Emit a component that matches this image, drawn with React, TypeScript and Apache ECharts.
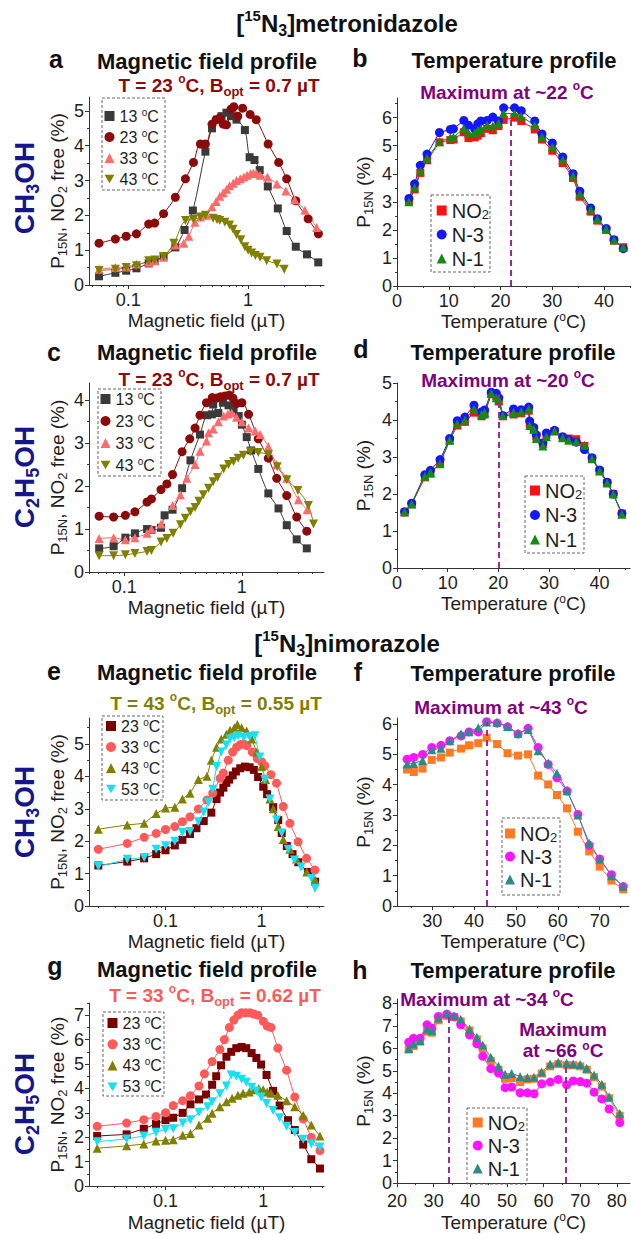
import React, { useEffect, useRef } from 'react';
import * as echarts from 'echarts';

const FONT = 'Liberation Sans, Arial, Helvetica, sans-serif';

// ---------- Panel a : metronidazole, CH3OH, magnetic field profile (x µT, y %) ----------
const A_13 = [[0.057,0.25],[0.078,0.35],[0.096,0.41],[0.117,0.48],[0.148,0.62],[0.166,0.7],[0.197,0.82],[0.247,1.08],[0.295,1.58],[0.346,2.14],[0.44,3.83],[0.5,4.5],[0.55,4.75],[0.6,4.85],[0.66,4.95],[0.72,4.85],[0.8,4.75],[0.94,4.45],[1.03,3.67],[1.13,3.59],[1.25,3.3],[1.46,2.83],[1.77,2.2],[2.1,1.55],[2.5,1.1],[3.1,0.88],[3.85,0.65]];
const A_23 = [[0.057,1.2],[0.078,1.32],[0.096,1.4],[0.117,1.47],[0.148,1.75],[0.166,1.78],[0.197,2.05],[0.247,2.52],[0.3,3.05],[0.35,3.52],[0.4,4.05],[0.44,4.05],[0.5,4.62],[0.54,4.75],[0.58,4.8],[0.62,4.62],[0.66,4.6],[0.72,5.05],[0.76,5.12],[0.82,4.85],[0.9,5.08],[1.04,4.9],[1.17,4.75],[1.47,4.05],[1.8,3.52],[2.1,3.05],[2.5,2.42],[3.17,1.9],[3.86,1.47]];
const A_33 = [[0.057,0.45],[0.078,0.5],[0.096,0.52],[0.117,0.6],[0.148,0.65],[0.166,0.7],[0.197,0.8],[0.247,1.15],[0.29,1.2],[0.32,1.4],[0.36,1.8],[0.4,1.95],[0.45,2.0],[0.5,2.25],[0.54,2.4],[0.58,2.55],[0.62,2.65],[0.66,2.75],[0.7,2.85],[0.75,2.92],[0.8,3.0],[0.86,3.05],[0.92,3.1],[0.98,3.15],[1.05,3.2],[1.11,3.22],[1.18,3.2],[1.26,3.15],[1.45,3.1],[1.74,2.9],[2.07,2.7],[2.45,2.45],[2.98,2.15],[3.73,1.65]];
const A_43 = [[0.057,0.42],[0.078,0.45],[0.096,0.5],[0.117,0.55],[0.148,0.7],[0.166,0.72],[0.197,0.82],[0.24,1.2],[0.3,1.85],[0.35,1.88],[0.4,1.95],[0.44,2.0],[0.51,1.92],[0.55,1.88],[0.58,1.85],[0.64,1.8],[0.7,1.72],[0.75,1.6],[0.8,1.45],[0.87,1.3],[0.94,1.1],[1.0,1.0],[1.07,0.92],[1.15,0.85],[1.26,0.8],[1.43,0.7],[1.74,0.6],[2.0,0.45]];

// ---------- Panel c : metronidazole, C2H5OH ----------
const C_13 = [[0.061,0.55],[0.081,0.6],[0.102,0.8],[0.123,0.9],[0.156,1.0],[0.17,0.98],[0.205,1.03],[0.22,1.32],[0.257,1.45],[0.31,1.95],[0.365,2.6],[0.44,3.2],[0.505,3.65],[0.556,3.67],[0.57,3.9],[0.63,3.7],[0.69,3.94],[0.77,3.88],[0.85,3.8],[0.94,3.63],[1.0,3.43],[1.1,3.14],[1.2,2.83],[1.38,2.4],[1.68,1.83],[2.05,1.48],[2.41,1.09],[2.93,0.76],[3.57,0.55]];
const C_23 = [[0.061,1.3],[0.081,1.28],[0.102,1.32],[0.123,1.4],[0.156,1.63],[0.17,1.7],[0.205,1.92],[0.23,2.05],[0.257,2.27],[0.31,2.8],[0.36,3.1],[0.4,3.35],[0.44,3.65],[0.5,3.94],[0.56,4.06],[0.61,4.05],[0.66,4.08],[0.72,4.1],[0.78,4.12],[0.84,4.05],[0.9,3.92],[1.0,3.94],[1.14,3.67],[1.38,3.1],[1.68,2.65],[1.98,2.18],[2.41,1.78],[2.93,1.28],[3.57,0.95]];
const C_33 = [[0.061,0.78],[0.081,0.8],[0.102,0.75],[0.123,0.8],[0.156,0.9],[0.17,1.0],[0.205,1.12],[0.257,1.55],[0.3,1.8],[0.34,2.18],[0.4,2.5],[0.44,2.81],[0.5,3.05],[0.52,3.24],[0.57,3.33],[0.63,3.5],[0.7,3.63],[0.76,3.68],[0.82,3.7],[0.9,3.6],[1.0,3.5],[1.14,3.35],[1.3,3.28],[1.43,3.2],[1.68,2.92],[1.98,2.5],[2.41,2.18],[3.03,1.68],[3.6,1.45]];
const C_43 = [[0.061,0.38],[0.081,0.38],[0.102,0.4],[0.123,0.43],[0.156,0.48],[0.17,0.5],[0.205,0.7],[0.23,0.78],[0.26,0.9],[0.3,1.1],[0.33,1.25],[0.365,1.4],[0.4,1.5],[0.43,1.65],[0.47,1.8],[0.52,1.95],[0.57,2.1],[0.62,2.2],[0.7,2.4],[0.77,2.5],[0.85,2.57],[0.93,2.65],[1.03,2.72],[1.18,2.8],[1.38,2.78],[1.68,2.73],[2.0,2.45],[2.41,2.15],[3.0,1.9],[3.68,1.55],[4.07,1.12]];

// ---------- Panel e : nimorazole, CH3OH ----------
const E_23 = [[0.02,1.25],[0.04,1.37],[0.06,1.47],[0.08,1.6],[0.1,1.72],[0.125,1.87],[0.15,2.04],[0.18,2.22],[0.21,2.4],[0.25,2.62],[0.3,2.88],[0.34,3.3],[0.37,3.5],[0.4,3.65],[0.43,3.8],[0.46,3.9],[0.5,4.03],[0.54,4.15],[0.6,4.25],[0.67,4.3],[0.75,4.28],[0.83,4.2],[0.92,3.98],[1.04,3.68],[1.14,3.45],[1.32,3.05],[1.49,2.65],[1.62,2.25],[1.83,1.85],[2.1,1.6],[2.41,1.35],[3.05,1.05],[3.6,0.75]];
const E_33 = [[0.02,1.75],[0.04,1.93],[0.06,2.12],[0.08,2.24],[0.1,2.36],[0.125,2.45],[0.15,2.6],[0.18,2.75],[0.22,2.99],[0.27,3.27],[0.31,3.48],[0.37,3.94],[0.4,4.1],[0.45,4.5],[0.5,4.75],[0.55,4.9],[0.6,4.98],[0.65,5.0],[0.7,4.95],[0.8,4.75],[0.9,4.55],[1.0,4.45],[1.08,4.33],[1.25,4.05],[1.43,3.79],[1.68,3.07],[1.97,2.55],[2.4,1.98],[2.94,1.47],[3.59,1.11]];
const E_43 = [[0.02,2.37],[0.04,2.5],[0.06,2.55],[0.08,2.85],[0.1,3.02],[0.125,3.05],[0.15,3.3],[0.18,3.48],[0.22,3.9],[0.27,4.0],[0.3,4.5],[0.34,4.9],[0.38,5.15],[0.43,5.3],[0.47,5.42],[0.52,5.5],[0.56,5.6],[0.62,5.5],[0.7,5.4],[0.79,5.15],[0.89,4.75],[1.0,4.3],[1.1,3.9],[1.22,3.3],[1.32,3.0],[1.49,2.45],[1.68,2.05],[1.97,1.75],[2.3,1.45],[2.95,1.05],[3.6,0.8]];
const E_53 = [[0.02,1.22],[0.04,1.44],[0.06,1.5],[0.08,1.75],[0.1,1.86],[0.125,2.0],[0.15,2.27],[0.18,2.3],[0.22,2.6],[0.25,2.9],[0.28,3.2],[0.31,3.6],[0.34,4.3],[0.38,4.75],[0.43,4.97],[0.47,5.15],[0.52,5.2],[0.57,5.25],[0.65,5.2],[0.75,5.22],[0.85,5.25],[0.96,4.6],[1.08,3.9],[1.22,3.3],[1.43,2.65],[1.62,2.25],[1.89,1.75],[2.2,1.42],[2.57,1.2],[3.3,0.85],[3.6,0.55]];

// ---------- Panel g : nimorazole, C2H5OH ----------
const G_23 = [[0.02,2.05],[0.04,2.12],[0.06,2.35],[0.08,2.55],[0.1,2.7],[0.12,2.8],[0.15,3.0],[0.18,3.35],[0.22,3.55],[0.26,3.75],[0.3,4.15],[0.33,4.5],[0.37,4.95],[0.42,5.3],[0.47,5.5],[0.53,5.65],[0.6,5.7],[0.67,5.65],[0.76,5.45],[0.85,5.25],[0.95,4.98],[1.08,4.55],[1.26,3.9],[1.47,3.3],[1.79,2.7],[2.1,2.3],[2.56,1.7],[3.1,1.1],[3.8,0.72]];
const G_33 = [[0.02,2.45],[0.04,2.58],[0.06,2.72],[0.08,2.85],[0.1,3.0],[0.12,3.3],[0.15,3.5],[0.18,3.7],[0.22,4.1],[0.25,4.6],[0.3,5.1],[0.36,5.6],[0.4,6.0],[0.45,6.5],[0.5,6.8],[0.55,7.0],[0.6,7.1],[0.66,7.1],[0.73,7.1],[0.8,7.05],[0.88,7.0],[1.0,6.75],[1.1,6.55],[1.2,6.5],[1.41,5.65],[1.73,4.75],[2.1,3.65],[2.56,2.75],[3.1,2.0],[3.8,1.45]];
const G_43 = [[0.02,1.55],[0.04,1.65],[0.06,1.72],[0.08,1.85],[0.1,1.88],[0.12,1.9],[0.15,2.08],[0.18,2.15],[0.22,2.5],[0.27,2.78],[0.3,2.98],[0.36,3.25],[0.42,3.45],[0.48,3.6],[0.55,3.72],[0.62,3.8],[0.72,3.85],[0.8,3.95],[0.9,4.0],[1.0,3.95],[1.1,3.85],[1.2,3.8],[1.41,3.72],[1.73,3.5],[2.1,3.25],[2.56,2.9],[3.1,2.5],[3.8,2.05]];
const G_53 = [[0.02,1.82],[0.04,1.93],[0.06,2.05],[0.08,2.2],[0.1,2.32],[0.12,2.35],[0.15,2.58],[0.18,2.72],[0.22,3.02],[0.27,3.25],[0.3,3.45],[0.36,3.78],[0.42,4.1],[0.47,4.55],[0.53,4.5],[0.6,4.38],[0.67,4.25],[0.76,4.05],[0.85,3.9],[0.95,3.65],[1.08,3.38],[1.26,3.1],[1.47,2.8],[1.73,2.45],[2.1,2.2],[2.56,1.92],[3.1,1.72],[3.8,1.6]];

// ---------- Panel b : metronidazole, CH3OH, temperature profile ----------
const B_T = [2.3,3.4,4.5,5.8,8.2,10.3,10.9,12.9,13.8,15.0,15.6,16.2,17.4,18.5,19.6,20.6,22.7,24.0,26.6,28.0,30.0,32.0,34.0,35.3,37.4,38.7,40.4,41.9,43.7];
const B_NO2 = [3.0,3.44,4.03,4.48,5.12,5.2,5.22,5.48,5.27,5.3,5.36,5.45,5.6,5.55,5.7,5.92,6.0,5.88,5.58,5.22,4.82,4.38,3.85,3.18,2.65,2.33,2.0,1.62,1.38];
const B_N3 = [3.12,3.64,4.3,4.7,5.47,5.58,5.6,5.9,5.73,5.6,5.78,5.88,5.9,6.02,5.88,6.35,6.35,6.25,5.88,5.42,5.1,4.6,4.0,3.38,2.78,2.4,2.05,1.65,1.33];
const B_N1 = [3.0,3.5,4.1,4.55,5.15,5.28,5.3,5.62,5.45,5.45,5.55,5.6,5.72,5.7,5.8,6.15,6.15,6.05,5.72,5.32,4.95,4.5,3.92,3.28,2.72,2.38,2.03,1.64,1.38];
const B_MAX = [22, 6.08];

// ---------- Panel d : metronidazole, C2H5OH ----------
const D_T = [1.5,2.9,5.5,6.6,8.5,10.4,11.9,13.4,15.2,16.7,17.3,18.6,19.6,20.1,20.9,23.0,24.5,26.0,26.2,27.0,27.5,28.8,29.5,31.1,32.7,33.9,35.4,37.0,38.5,40.0,41.5,42.7,44.4];
const D_NO2 = [1.5,1.72,2.45,2.55,2.85,3.45,3.85,3.95,4.2,4.1,4.15,4.7,4.65,4.5,4.1,4.15,4.18,4.25,3.9,3.75,3.55,3.35,3.6,3.7,3.52,3.5,3.48,3.3,2.95,2.62,2.3,2.0,1.47];
const D_N3 = [1.52,1.75,2.52,2.64,2.93,3.5,3.98,4.08,4.4,4.22,4.27,4.75,4.72,4.6,4.12,4.3,4.28,4.35,3.97,3.8,3.6,3.38,3.65,3.72,3.55,3.47,3.4,3.2,2.98,2.65,2.32,2.0,1.47];
const D_N1 = [1.52,1.73,2.48,2.58,2.82,3.45,3.9,4.0,4.3,4.15,4.2,4.72,4.6,4.55,4.12,4.2,4.22,4.3,3.85,3.75,3.5,3.3,3.55,3.7,3.52,3.45,3.42,3.32,2.95,2.62,2.3,2.0,1.45];
const D_MAX = [20, 4.68];

// ---------- Panel f : nimorazole, CH3OH ----------
const F_T = [24.0,25.6,27.7,29.9,32.1,34.2,36.9,38.8,41.0,43.0,45.5,48.0,50.5,52.9,55.3,57.7,59.8,62.2,64.8,67.5,70.0,72.8,75.6];
const F_NO2 = [4.5,4.42,4.53,4.82,4.9,5.06,5.19,5.3,5.37,5.55,5.34,5.04,4.96,5.0,4.3,4.01,3.66,3.22,2.45,1.8,1.3,0.84,0.55];
const F_N3 = [4.84,4.9,5.0,5.23,5.3,5.45,5.61,5.74,5.74,6.08,6.03,5.91,5.67,5.86,5.23,4.67,4.23,3.79,3.02,2.0,1.55,1.03,0.64];
const F_N1 = [4.68,4.7,4.8,5.15,5.2,5.45,5.68,5.75,5.88,6.07,6.06,5.92,5.7,5.82,5.12,4.72,4.38,3.8,3.0,2.08,1.55,1.0,0.65];
const F_MAX = [43, 6.05];

// ---------- Panel h : nimorazole, C2H5OH ----------
const H_T = [23.2,24.5,26.3,28.2,29.5,31.3,33.6,35.6,37.4,39.8,41.8,43.4,45.6,47.7,49.5,51.3,53.6,55.6,57.4,59.5,61.8,64.0,66.3,68.1,70.0,71.8,73.8,75.9,77.9,80.8];
const H_NO2 = [5.95,6.1,6.3,6.75,6.7,7.25,7.45,7.4,7.2,6.8,6.4,6.0,5.45,5.05,4.65,4.68,4.5,4.62,4.65,4.88,5.2,5.3,5.25,5.25,5.2,5.05,4.72,4.3,3.78,3.0];
const H_N3 = [6.27,6.45,6.45,7.05,6.9,7.42,7.52,7.4,7.05,6.6,6.2,5.65,5.1,4.9,4.25,4.28,4.02,4.02,3.98,4.42,4.5,4.62,4.38,4.55,4.52,4.45,4.05,3.75,3.3,2.7];
const H_N1 = [6.0,6.2,6.35,6.85,6.8,7.35,7.55,7.45,7.3,6.85,6.5,6.15,5.6,5.2,4.85,4.88,4.75,4.7,4.72,4.95,5.3,5.38,5.35,5.3,5.28,5.12,4.82,4.4,3.85,3.1];
const H_MAX1 = [34, 7.5];
const H_MAX2 = [66, 5.35];

// ---------- tick values ----------
const LOG_TICKS = [0.1, 1];
const LOG_MINOR = [0.02,0.03,0.04,0.05,0.06,0.07,0.08,0.09,0.2,0.3,0.4,0.5,0.6,0.7,0.8,0.9,2,3,4];
const T_TICKS_BD = [0, 10, 20, 30, 40];
const T_MINOR_BD = [5, 15, 25, 35, 45];
const T_TICKS_F = [30, 40, 50, 60, 70];
const T_MINOR_F = [25, 35, 45, 55, 65, 75];
const T_TICKS_H = [20, 30, 40, 50, 60, 70, 80];
const T_MINOR_H = [25, 35, 45, 55, 65, 75];
const Y_TICKS = [0, 1, 2, 3, 4, 5, 6, 7, 8];
const Y_MINOR = [0.5, 1.5, 2.5, 3.5, 4.5, 5.5, 6.5, 7.5];

// ---------- styling ----------
const COL = {
  gray: '#3a3a3a', dred: '#8b0a0a', pink: '#ff6b6b', olive: '#808000',
  maroon: '#7a0000', salmon: '#ff5a5a', cyan: '#16e0f2',
  red: '#ff1010', blue: '#1515ff', green: '#158a15',
  orange: '#ff7a22', magenta: '#ff14ff', teal: '#2c8a8a',
  purple: '#800080', dash: '#9a2c9a', navy: '#16168a',
};
const DOWN = 'path://M0,0L10,0L5,8.66Z';

const LEFT_YNAME = 'P{sub|15N}, NO{sub|2} free (%)';
const RIGHT_YNAME = 'P{sub|15N} (%)';

type Panel = {
  grid: any; xType: 'log' | 'value'; xMin: number; xMax: number; yMax: number;
  xTicks: number[]; xMinor: number[]; xName: string; yName: string; yGap: number; xMargin: number;
};

const PANELS: Panel[] = [
  { grid: { left: 89, top: 97, width: 235, height: 188 }, xType: 'log', xMin: 0.047, xMax: 4.3, yMax: 5.4, xTicks: LOG_TICKS, xMinor: LOG_MINOR, xName: 'Magnetic field (µT)', yName: LEFT_YNAME, yGap: 20, xMargin: 6 },
  { grid: { left: 397, top: 98, width: 233, height: 188 }, xType: 'value', xMin: 0, xMax: 45, yMax: 6.7, xTicks: T_TICKS_BD, xMinor: T_MINOR_BD, xName: 'Temperature ({sup|o}C)', yName: RIGHT_YNAME, yGap: 22, xMargin: 6 },
  { grid: { left: 89, top: 383, width: 235, height: 189 }, xType: 'log', xMin: 0.05, xMax: 5.0, yMax: 4.4, xTicks: LOG_TICKS, xMinor: LOG_MINOR, xName: 'Magnetic field (µT)', yName: LEFT_YNAME, yGap: 20, xMargin: 6 },
  { grid: { left: 397, top: 383, width: 233, height: 185 }, xType: 'value', xMin: 0, xMax: 46, yMax: 5.0, xTicks: T_TICKS_BD, xMinor: T_MINOR_BD, xName: 'Temperature ({sup|o}C)', yName: RIGHT_YNAME, yGap: 22, xMargin: 6 },
  { grid: { left: 89, top: 718, width: 235, height: 188 }, xType: 'log', xMin: 0.016, xMax: 4.46, yMax: 5.8, xTicks: LOG_TICKS, xMinor: LOG_MINOR, xName: 'Magnetic field (µT)', yName: LEFT_YNAME, yGap: 20, xMargin: 6 },
  { grid: { left: 397, top: 718, width: 232, height: 188 }, xType: 'value', xMin: 21.6, xMax: 77, yMax: 6.2, xTicks: T_TICKS_F, xMinor: T_MINOR_F, xName: 'Temperature ({sup|o}C)', yName: RIGHT_YNAME, yGap: 22, xMargin: 6 },
  { grid: { left: 89, top: 1003, width: 235, height: 189 }, xType: 'log', xMin: 0.0165, xMax: 4.18, yMax: 7.5, xTicks: LOG_TICKS, xMinor: LOG_MINOR, xName: 'Magnetic field (µT)', yName: LEFT_YNAME, yGap: 20, xMargin: 6 },
  { grid: { left: 397, top: 999, width: 233, height: 193 }, xType: 'value', xMin: 20, xMax: 83.6, yMax: 8.2, xTicks: T_TICKS_H, xMinor: T_MINOR_H, xName: 'Temperature ({sup|o}C)', yName: RIGHT_YNAME, yGap: 22, xMargin: 9 },
];

const AXIS_COLOR = '#333';
const LABEL_COLOR = '#1e1e1e';
const nameRich = {
  sub: { fontSize: 13, lineHeight: 13, verticalAlign: 'bottom', color: LABEL_COLOR, fontFamily: FONT },
  sup: { fontSize: 12, lineHeight: 12, verticalAlign: 'top', color: LABEL_COLOR, fontFamily: FONT },
};

function pairs(xs: number[], ys: number[]) {
  return xs.map((x, i) => [x, ys[i]]);
}

function line(name: string, data: number[][], symbol: string, color: string, idx: number, size: number, smooth: number | boolean) {
  return {
    type: 'line', name, data, xAxisIndex: idx, yAxisIndex: idx,
    symbol, symbolSize: size, smooth, showSymbol: true,
    lineStyle: { color, width: 1 }, itemStyle: { color },
    emphasis: { disabled: true }, silent: true,
  };
}

function maxLine(points: number[][]) {
  return {
    silent: true, symbol: ['none', 'none'], label: { show: false },
    lineStyle: { color: COL.dash, type: [6, 4], width: 2 },
    data: points.map((p) => [{ coord: [p[0], 0] }, { coord: [p[0], p[1]] }]),
  };
}

function txt(x: number, y: number, text: string, size: number, color: string, extra: any = {}) {
  const weight = extra.weight ?? 'bold';
  const base = { fontSize: size, fontWeight: weight, fontFamily: FONT, fill: color, color };
  const sub = Math.round(size * 0.66);
  const sup = Math.round(size * 0.64);
  return {
    type: 'text', x, y, rotation: extra.rotation ?? 0, silent: true, z: 100,
    style: {
      text, ...base,
      align: extra.align ?? 'center', textAlign: extra.align ?? 'center',
      verticalAlign: 'middle', textVerticalAlign: 'middle',
      lineHeight: extra.lh ?? Math.round(size * 1.3),
      rich: {
        sub: { ...base, fontSize: sub, lineHeight: sub, verticalAlign: 'bottom' },
        sup: { ...base, fontSize: sup, lineHeight: sup, verticalAlign: 'top' },
      },
    },
  };
}

function box(x: number, y: number, w: number, h: number) {
  return {
    type: 'rect', silent: true, z: 50,
    shape: { x, y, width: w, height: h },
    style: { fill: 'none', stroke: '#666', lineWidth: 1, lineDash: [3, 2] },
  };
}

function legendLeft(left: number, top: number, gap: number, names: string[], icons: string[]) {
  return {
    orient: 'vertical', left, top, padding: 0, itemGap: gap, itemWidth: 10, itemHeight: 10,
    selectedMode: false,
    data: names.map((n, i) => ({ name: n, icon: icons[i] })),
    formatter: (n: string) => `${n.split(':')[1]} {s|o}C`,
    textStyle: {
      fontSize: 16, lineHeight: 18, color: LABEL_COLOR, fontFamily: FONT,
      rich: { s: { fontSize: 10, lineHeight: 10, verticalAlign: 'top', color: LABEL_COLOR, fontFamily: FONT } },
    },
  };
}

function legendRight(left: number, top: number, gap: number, names: string[], icons: string[]) {
  return {
    orient: 'vertical', left, top, padding: 0, itemGap: gap, itemWidth: 10, itemHeight: 10,
    selectedMode: false,
    data: names.map((n, i) => ({ name: n, icon: icons[i] })),
    formatter: (n: string) => {
      const t = n.split(':')[1];
      return t === 'NO2' ? 'NO{b|2}' : t;
    },
    textStyle: {
      fontSize: 20, lineHeight: 21, color: LABEL_COLOR, fontFamily: FONT,
      rich: { b: { fontSize: 13, lineHeight: 13, verticalAlign: 'bottom', color: LABEL_COLOR, fontFamily: FONT } },
    },
  };
}

function buildOption() {
  const grid = PANELS.map((p) => p.grid);
  const xMain = PANELS.map((p, i) => ({
    type: p.xType, gridIndex: i, min: p.xMin, max: p.xMax, position: 'bottom',
    axisLine: { show: true, onZero: false, lineStyle: { color: AXIS_COLOR, width: 1 } },
    axisTick: { show: true, length: 4, lineStyle: { color: AXIS_COLOR }, customValues: p.xTicks },
    axisLabel: { show: true, margin: p.xMargin, fontSize: 18, lineHeight: 18, color: LABEL_COLOR, fontFamily: FONT, customValues: p.xTicks, formatter: (v: number) => String(v) },
    splitLine: { show: false },
    name: p.xName, nameLocation: 'middle', nameGap: 18,
    nameTextStyle: { fontSize: 19, color: LABEL_COLOR, fontFamily: FONT, lineHeight: 22, rich: nameRich },
  }));
  const xMinor = PANELS.map((p, i) => ({
    type: p.xType, gridIndex: i, min: p.xMin, max: p.xMax, position: 'bottom',
    axisLine: { show: false }, axisLabel: { show: false }, splitLine: { show: false },
    axisTick: { show: true, length: 2, lineStyle: { color: AXIS_COLOR }, customValues: p.xMinor },
  }));
  const yMain = PANELS.map((p, i) => ({
    type: 'value', gridIndex: i, min: 0, max: p.yMax, position: 'left',
    axisLine: { show: true, onZero: false, lineStyle: { color: AXIS_COLOR, width: 1 } },
    axisTick: { show: true, length: 4, lineStyle: { color: AXIS_COLOR }, customValues: Y_TICKS.filter((v) => v <= p.yMax) },
    axisLabel: { show: true, margin: 5, fontSize: 18, lineHeight: 18, color: LABEL_COLOR, fontFamily: FONT, customValues: Y_TICKS.filter((v) => v <= p.yMax) },
    splitLine: { show: false },
    name: p.yName, nameLocation: 'middle', nameGap: p.yGap, nameRotate: 90,
    nameTextStyle: { fontSize: 19, color: LABEL_COLOR, fontFamily: FONT, lineHeight: 24, rich: nameRich },
  }));
  const yMinor = PANELS.map((p, i) => ({
    type: 'value', gridIndex: i, min: 0, max: p.yMax, position: 'left', offset: 0,
    axisLine: { show: false }, axisLabel: { show: false }, splitLine: { show: false },
    axisTick: { show: true, length: 2, lineStyle: { color: AXIS_COLOR }, customValues: Y_MINOR.filter((v) => v <= p.yMax) },
  }));

  const S = 8, R = 9, T = 9;
  const series: any[] = [
    // a
    line('a:13', A_13, 'rect', COL.gray, 0, S, 0.35),
    line('a:23', A_23, 'circle', COL.dred, 0, R, 0.35),
    line('a:33', A_33, 'triangle', COL.pink, 0, T, 0.35),
    line('a:43', A_43, DOWN, COL.olive, 0, T, 0.35),
    // b
    { ...line('b:NO2', pairs(B_T, B_NO2), 'rect', COL.red, 1, S, false), markLine: maxLine([B_MAX]) },
    line('b:N-3', pairs(B_T, B_N3), 'circle', COL.blue, 1, R, false),
    line('b:N-1', pairs(B_T, B_N1), 'triangle', COL.green, 1, T, false),
    // c
    line('c:13', C_13, 'rect', COL.gray, 2, S, 0.35),
    line('c:23', C_23, 'circle', COL.dred, 2, R, 0.35),
    line('c:33', C_33, 'triangle', COL.pink, 2, T, 0.35),
    line('c:43', C_43, DOWN, COL.olive, 2, T, 0.35),
    // d
    { ...line('d:NO2', pairs(D_T, D_NO2), 'rect', COL.red, 3, S, false), markLine: maxLine([D_MAX]) },
    line('d:N-3', pairs(D_T, D_N3), 'circle', COL.blue, 3, R, false),
    line('d:N-1', pairs(D_T, D_N1), 'triangle', COL.green, 3, T, false),
    // e
    line('e:23', E_23, 'rect', COL.maroon, 4, S, false),
    line('e:33', E_33, 'circle', COL.salmon, 4, R, false),
    line('e:43', E_43, 'triangle', COL.olive, 4, T, false),
    line('e:53', E_53, DOWN, COL.cyan, 4, T, false),
    // f
    { ...line('f:NO2', pairs(F_T, F_NO2), 'rect', COL.orange, 5, S, false), markLine: maxLine([F_MAX]) },
    line('f:N-3', pairs(F_T, F_N3), 'circle', COL.magenta, 5, R, false),
    line('f:N-1', pairs(F_T, F_N1), 'triangle', COL.teal, 5, T, false),
    // g
    line('g:23', G_23, 'rect', COL.maroon, 6, S, false),
    line('g:33', G_33, 'circle', COL.salmon, 6, R, false),
    line('g:43', G_43, 'triangle', COL.olive, 6, T, false),
    line('g:53', G_53, DOWN, COL.cyan, 6, T, false),
    // h
    { ...line('h:NO2', pairs(H_T, H_NO2), 'rect', COL.orange, 7, S, false), markLine: maxLine([H_MAX1, H_MAX2]) },
    line('h:N-3', pairs(H_T, H_N3), 'circle', COL.magenta, 7, R, false),
    line('h:N-1', pairs(H_T, H_N1), 'triangle', COL.teal, 7, T, false),
  ];

  const ICONS_L = ['rect', 'circle', 'triangle', DOWN];
  const ICONS_R = ['rect', 'circle', 'triangle'];
  const legend = [
    legendLeft(104.5, 107, 3, ['a:13', 'a:23', 'a:33', 'a:43'], ICONS_L),
    legendRight(436.7, 200, 3, ['b:NO2', 'b:N-3', 'b:N-1'], ICONS_R),
    legendLeft(100.5, 390, 4, ['c:13', 'c:23', 'c:33', 'c:43'], ICONS_L),
    legendRight(530, 480, 3.5, ['d:NO2', 'd:N-3', 'd:N-1'], ICONS_R),
    legendLeft(106, 717, 3, ['e:23', 'e:33', 'e:43', 'e:53'], ICONS_L),
    legendRight(505, 823, 2, ['f:NO2', 'f:N-3', 'f:N-1'], ICONS_R),
    legendLeft(107.5, 1014, 3.3, ['g:23', 'g:33', 'g:43', 'g:53'], ICONS_L),
    legendRight(472.7, 1112, 2, ['h:NO2', 'h:N-3', 'h:N-1'], ICONS_R),
  ];

  const BLACK = '#111';
  const elements: any[] = [
    txt(347, 23, '[{sup|15}N{sub|3}]metronidazole', 24, BLACK),
    txt(347, 643, '[{sup|15}N{sub|3}]nimorazole', 24, BLACK),
    txt(56, 59, 'a', 25, BLACK), txt(360, 58, 'b', 25, BLACK),
    txt(54, 352, 'c', 25, BLACK), txt(361, 349, 'd', 25, BLACK),
    txt(54, 671, 'e', 25, BLACK), txt(358, 672, 'f', 25, BLACK),
    txt(55, 966, 'g', 25, BLACK), txt(360, 970, 'h', 25, BLACK),
    txt(207, 61, 'Magnetic field profile', 22, BLACK),
    txt(514, 60, 'Temperature profile', 22, BLACK),
    txt(207, 352, 'Magnetic field profile', 22, BLACK),
    txt(513, 352, 'Temperature profile', 22, BLACK),
    txt(207, 672, 'Magnetic field profile', 22, BLACK),
    txt(513, 673, 'Temperature profile', 22, BLACK),
    txt(207, 969, 'Magnetic field profile', 22, BLACK),
    txt(513, 970, 'Temperature profile', 22, BLACK),
    txt(219, 85, 'T = 23 {sup|o}C, B{sub|opt} = 0.7 µT', 19, COL.dred),
    txt(219, 379, 'T = 23 {sup|o}C, B{sub|opt} = 0.7 µT', 19, COL.dred),
    txt(216, 703, 'T = 43 {sup|o}C, B{sub|opt} = 0.55 µT', 19, COL.olive),
    txt(215, 995, 'T = 33 {sup|o}C, B{sub|opt} = 0.62 µT', 19, COL.salmon),
    txt(507, 92, 'Maximum at ~22 {sup|o}C', 19, COL.purple),
    txt(508, 380, 'Maximum at ~20 {sup|o}C', 19, COL.purple),
    txt(501, 707, 'Maximum at ~43 {sup|o}C', 19, COL.purple),
    txt(487, 999, 'Maximum at ~34 {sup|o}C', 19, COL.purple),
    txt(563, 1029, 'Maximum', 19, COL.purple, { lh: 20 }),
    txt(563, 1050, 'at ~66 {sup|o}C', 19, COL.purple, { lh: 20 }),
    txt(24, 188, 'CH{sub|3}OH', 28, COL.navy, { rotation: Math.PI / 2 }),
    txt(24, 477, 'C{sub|2}H{sub|5}OH', 28, COL.navy, { rotation: Math.PI / 2 }),
    txt(24, 812, 'CH{sub|3}OH', 28, COL.navy, { rotation: Math.PI / 2 }),
    txt(24, 1104, 'C{sub|2}H{sub|5}OH', 28, COL.navy, { rotation: Math.PI / 2 }),
    box(102, 98, 63, 92), box(431, 195, 59, 77),
    box(98, 389, 63, 87), box(525, 476, 59, 77),
    box(102, 716, 61, 84), box(502, 818, 58, 77),
    box(103, 1012, 61, 84), box(467, 1108, 60, 76),
  ];

  return {
    animation: false,
    backgroundColor: '#ffffff',
    textStyle: { fontFamily: FONT },
    grid,
    xAxis: [...xMain, ...xMinor],
    yAxis: [...yMain, ...yMinor],
    legend,
    series,
    graphic: { elements },
  };
}

export default function App() {
  const ref = useRef<HTMLDivElement>(null);
  useEffect(() => {
    if (!ref.current) return;
    const chart = echarts.init(ref.current, undefined, { renderer: 'svg' });
    chart.setOption(buildOption() as any);
    return () => chart.dispose();
  }, []);
  return <div ref={ref} style={{ position: 'absolute', left: 0, top: 0, width: 631, height: 1234 }} />;
}
